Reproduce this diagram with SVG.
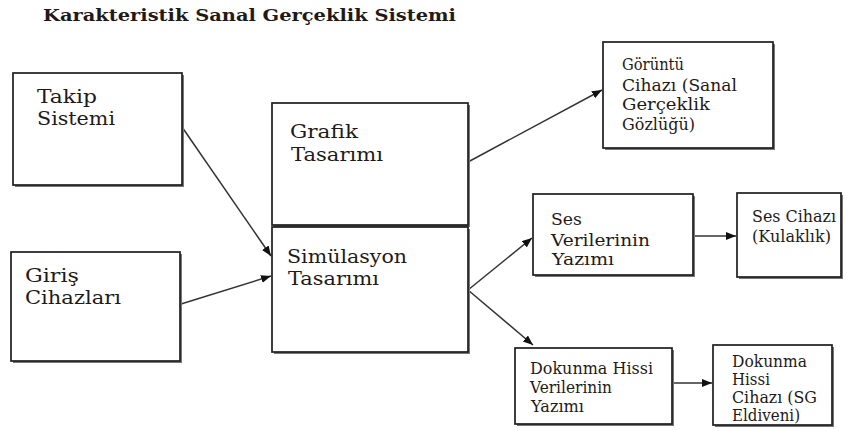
<svg xmlns="http://www.w3.org/2000/svg" width="847" height="431" viewBox="0 0 847 431">
<style>
  .box{fill:#fff;stroke:#1e1e1e;stroke-width:1.7}
  .sh{fill:#777}
  .c{stroke:#333;stroke-width:1.5;fill:none}
  text{font-family:"DejaVu Serif","Liberation Serif",serif;fill:#1f1a17}
</style>
<defs>
  <marker id="ah" markerUnits="userSpaceOnUse" markerWidth="12" markerHeight="10" refX="10" refY="4" orient="auto">
    <path d="M0,0 L10,4 L0,8 z" fill="#111"/>
  </marker>
</defs>
<rect width="847" height="431" fill="#fff"/>
<text x="43" y="21" font-weight="bold" font-size="17.5" fill="#111" textLength="413" lengthAdjust="spacingAndGlyphs">Karakteristik Sanal Gerçeklik Sistemi</text>

<g id="connectors">
  <line class="c" x1="182" y1="127" x2="271" y2="256" marker-end="url(#ah)"/>
  <line class="c" x1="181" y1="304" x2="271" y2="276" marker-end="url(#ah)"/>
  <line class="c" x1="468" y1="162" x2="602" y2="90" marker-end="url(#ah)"/>
  <line class="c" x1="468" y1="290" x2="532" y2="238" marker-end="url(#ah)"/>
  <line class="c" x1="468" y1="290" x2="533" y2="345" marker-end="url(#ah)"/>
  <line class="c" x1="693" y1="236" x2="736" y2="236" marker-end="url(#ah)"/>
  <line class="c" x1="672" y1="383" x2="712" y2="383" marker-end="url(#ah)"/>
</g>

<g id="takip" font-size="18.5">
  <rect class="sh" x="15" y="75" width="169" height="112"/>
  <rect class="box" x="13" y="73" width="169" height="112"/>
  <text x="37" y="103" textLength="60" lengthAdjust="spacingAndGlyphs">Takip</text>
  <text x="37" y="125" textLength="78" lengthAdjust="spacingAndGlyphs">Sistemi</text>
</g>

<g id="giris" font-size="18.5">
  <rect class="sh" x="13" y="254" width="169" height="109"/>
  <rect class="box" x="11" y="252" width="169" height="109"/>
  <text x="25" y="282" textLength="54" lengthAdjust="spacingAndGlyphs">Giriş</text>
  <text x="25" y="304" textLength="96" lengthAdjust="spacingAndGlyphs">Cihazları</text>
</g>

<g id="grafik" font-size="18.5">
  <rect class="sh" x="274" y="105" width="196" height="122"/>
  <rect class="box" x="272" y="103" width="196" height="122"/>
  <text x="290" y="138" textLength="68" lengthAdjust="spacingAndGlyphs">Grafik</text>
  <text x="291" y="161" textLength="92" lengthAdjust="spacingAndGlyphs">Tasarımı</text>
</g>

<g id="simulasyon" font-size="18.5">
  <rect class="sh" x="274" y="229" width="196" height="125"/>
  <rect class="box" x="272" y="227" width="196" height="125"/>
  <text x="287" y="263" textLength="120" lengthAdjust="spacingAndGlyphs">Simülasyon</text>
  <text x="288" y="285" textLength="91" lengthAdjust="spacingAndGlyphs">Tasarımı</text>
</g>

<g id="goruntu" font-size="16.5">
  <rect class="sh" x="605" y="44" width="170" height="106"/>
  <rect class="box" x="603" y="42" width="170" height="106"/>
  <text x="622" y="70" textLength="62" lengthAdjust="spacingAndGlyphs">Görüntü</text>
  <text x="622" y="91" textLength="115" lengthAdjust="spacingAndGlyphs">Cihazı (Sanal</text>
  <text x="622" y="110" textLength="88" lengthAdjust="spacingAndGlyphs">Gerçeklik</text>
  <text x="622" y="130" textLength="73" lengthAdjust="spacingAndGlyphs">Gözlüğü)</text>
</g>

<g id="ses-veri" font-size="16.5">
  <rect class="sh" x="535" y="196" width="160" height="81"/>
  <rect class="box" x="533" y="194" width="160" height="81"/>
  <text x="551" y="225" textLength="31" lengthAdjust="spacingAndGlyphs">Ses</text>
  <text x="551" y="246" textLength="99" lengthAdjust="spacingAndGlyphs">Verilerinin</text>
  <text x="552" y="265" textLength="62" lengthAdjust="spacingAndGlyphs">Yazımı</text>
</g>

<g id="ses-cihazi" font-size="16">
  <rect class="sh" x="739" y="195" width="104" height="84"/>
  <rect class="box" x="737" y="193" width="104" height="84"/>
  <text x="752" y="222" textLength="84" lengthAdjust="spacingAndGlyphs">Ses Cihazı</text>
  <text x="752" y="242" textLength="79" lengthAdjust="spacingAndGlyphs">(Kulaklık)</text>
</g>

<g id="dokunma-veri" font-size="16">
  <rect class="sh" x="517" y="350" width="157" height="76"/>
  <rect class="box" x="515" y="348" width="157" height="76"/>
  <text x="530" y="374" textLength="123" lengthAdjust="spacingAndGlyphs">Dokunma Hissi</text>
  <text x="530" y="393" textLength="82" lengthAdjust="spacingAndGlyphs">Verilerinin</text>
  <text x="531" y="412" textLength="53" lengthAdjust="spacingAndGlyphs">Yazımı</text>
</g>

<g id="dokunma-cihazi" font-size="16">
  <rect class="sh" x="715" y="347" width="119" height="80"/>
  <rect class="box" x="713" y="345" width="119" height="80"/>
  <text x="732" y="367" textLength="75" lengthAdjust="spacingAndGlyphs">Dokunma</text>
  <text x="732" y="385" textLength="38" lengthAdjust="spacingAndGlyphs">Hissi</text>
  <text x="732" y="403" textLength="85" lengthAdjust="spacingAndGlyphs">Cihazı (SG</text>
  <text x="732" y="421" textLength="68" lengthAdjust="spacingAndGlyphs">Eldiveni)</text>
</g>
</svg>
